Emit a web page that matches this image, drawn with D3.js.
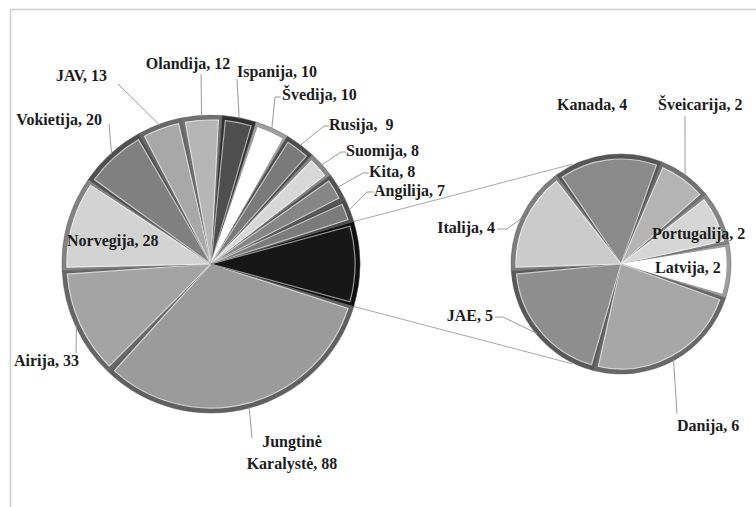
<!DOCTYPE html>
<html>
<head>
<meta charset="utf-8">
<script src="https://cdn.jsdelivr.net/npm/d3@7/dist/d3.min.js"></script>
<style>
  html, body { margin: 0; padding: 0; background: #fff; }
  svg { display: block; }
</style>
</head>
<body>
<svg id="chart" width="756" height="507"></svg>
<script>
// Main pie: countries, last slice is the sum of the secondary pie
const mainNames  = ["Jungtinė Karalystė", "Airija", "Norvegija", "Vokietija", "JAV", "Olandija",
                    "Ispanija", "Švedija", "Rusija", "Suomija", "Kita", "Angilija"];
const mainValues = [88, 33, 28, 20, 13, 12, 10, 10, 9, 8, 8, 7];
const mainColors = ["#9b9b9b", "#a4a4a4", "#d3d3d3", "#808080", "#a8a8a8", "#b6b6b6",
                    "#4e4e4e", "#ffffff", "#7a7a7a", "#d8d8d8", "#868686", "#7b7b7b"];

// Secondary pie (clockwise from its first slice)
const subNames  = ["Kanada", "Šveicarija", "Portugalija", "Latvija", "Danija", "JAE", "Italija"];
const subValues = [4, 2, 2, 2, 6, 5, 4];
const subColors = ["#8a8a8a", "#b4b4b4", "#d6d6d6", "#ffffff", "#a7a7a7", "#8e8e8e", "#cbcbcb"];
const otherColor = "#161616";

const FONT = "'Liberation Serif', 'DejaVu Serif', 'Times New Roman', serif";

// Label placement: [x, y, anchor, leader points after the rim point]
const mainLabelLayout = {
  "Jungtinė Karalystė": { x: 292, y: 447, anchor: "middle", lines: ["Jungtinė", "Karalystė, 88"], leader: [[252, 438]] },
  "Airija":    { x: 14,  y: 366, anchor: "start",  leader: [[76, 353]] },
  "Norvegija": { x: 67,  y: 246, anchor: "start",  leader: null },
  "Vokietija": { x: 102, y: 125, anchor: "end",    leader: [[109, 124]] },
  "JAV":       { x: 107, y: 81,  anchor: "end",    leader: [[118, 84]] },
  "Olandija":  { x: 188, y: 69,  anchor: "middle", leader: [[201, 74]] },
  "Ispanija":  { x: 237, y: 77,  anchor: "start",  leader: [[237, 79]] },
  "Švedija":   { x: 282, y: 100, anchor: "start",  leader: [[275, 97], [281, 97]] },
  "Rusija":    { x: 329, y: 130, anchor: "start",  leader: [[324, 126], [329, 126]], text: "Rusija,  9" },
  "Suomija":   { x: 346, y: 156, anchor: "start",  leader: [[341, 152], [346, 152]] },
  "Kita":      { x: 369, y: 177, anchor: "start",  leader: [[363, 173], [369, 173]] },
  "Angilija":  { x: 374, y: 196, anchor: "start",  leader: [[367, 192], [374, 192]] }
};
const subLabelLayout = {
  "Kanada":      { x: 557, y: 110, anchor: "start", leader: null },
  "Šveicarija":  { x: 658, y: 110, anchor: "start", leader: [[685, 116]] },
  "Portugalija": { x: 652, y: 239, anchor: "start", leader: null },
  "Latvija":     { x: 655, y: 273, anchor: "start", leader: null },
  "Danija":      { x: 677, y: 431, anchor: "start", leader: [[677, 414]] },
  "JAE":         { x: 493, y: 321, anchor: "end",   leader: [[503, 317], [495, 317]] },
  "Italija":     { x: 495, y: 233, anchor: "end",   leader: [[507, 229], [497, 229]] }
};

const svg = d3.select("#chart");

// Frame of the chart area
svg.append("path")
  .attr("d", "M756,9.5 H10.5 V507")
  .attr("fill", "none").attr("stroke", "#cfcfcf").attr("stroke-width", 1.5);

const mainCx = 211, mainCy = 264, mainR = 149;
const subCx = 621, subCy = 264, subR = 110;

const otherTotal = d3.sum(subValues);
const mainData = mainNames.map((n, i) => ({ name: n, value: mainValues[i], color: mainColors[i] }))
  .concat([{ name: "__other", value: otherTotal, color: otherColor }]);
const mainTotal = d3.sum(mainData, d => d.value);
const otherSpan = 2 * Math.PI * otherTotal / mainTotal;

// The split-off slice sits centred on the 3 o'clock direction
const mainStart = Math.PI / 2 + otherSpan / 2;
const mainPie = d3.pie().sort(null).value(d => d.value)
  .startAngle(mainStart).endAngle(mainStart + 2 * Math.PI);
const mainArcs = mainPie(mainData);

const subStart = -36 * Math.PI / 180;
const subData = subNames.map((n, i) => ({ name: n, value: subValues[i], color: subColors[i] }));
const subPie = d3.pie().sort(null).value(d => d.value)
  .startAngle(subStart).endAngle(subStart + 2 * Math.PI);
const subArcs = subPie(subData);

function polar(cx, cy, r, a) { return [cx + r * Math.sin(a), cy - r * Math.cos(a)]; }

// Connector lines between the split slice and the secondary pie
const otherArc = mainArcs[mainArcs.length - 1];
const conn = svg.append("g").attr("stroke", "#a8a8a8").attr("stroke-width", 1).attr("fill", "none");
const connA = 26 * Math.PI / 180;
[[otherArc.startAngle, -connA], [otherArc.endAngle, Math.PI + connA]].forEach(([a1, a2]) => {
  const p1 = polar(mainCx, mainCy, mainR - 1, a1);
  const p2 = polar(subCx, subCy, subR + 1, a2);
  conn.append("line").attr("x1", p1[0]).attr("y1", p1[1]).attr("x2", p2[0]).attr("y2", p2[1]);
});

// Bevelled slices
function drawPie(cx, cy, r, arcs) {
  const g = svg.append("g").attr("transform", `translate(${cx},${cy})`);
  const rim = d3.arc().innerRadius(0).outerRadius(r);
  const fr = r - 5;
  const face = d3.arc().innerRadius(0).outerRadius(fr).padAngle(7 / fr).padRadius(fr);
  const s = g.selectAll("g.slice").data(arcs).join("g").attr("class", "slice");
  s.append("path").attr("d", rim)
    .attr("fill", d => d3.interpolateRgb(d.data.color, "#000")(0.38))
    .attr("stroke", "#5a5a5a").attr("stroke-width", 0.5);
  s.append("path").attr("d", face)
    .attr("fill", d => d.data.color)
    .attr("stroke", d => d3.interpolateRgb(d.data.color, "#fff")(0.55))
    .attr("stroke-width", 1.2);
  return g;
}

drawPie(mainCx, mainCy, mainR, mainArcs);
drawPie(subCx, subCy, subR, subArcs);

// Labels and leader lines
const leaders = svg.append("g").attr("stroke", "#9a9a9a").attr("stroke-width", 1).attr("fill", "none");
const labels = svg.append("g")
  .attr("font-family", FONT).attr("font-weight", "bold").attr("font-size", 16).attr("fill", "#1c1c1c");

function addLabels(arcs, layout, cx, cy, r) {
  arcs.forEach(a => {
    const L = layout[a.data.name];
    if (!L) return;
    if (L.leader) {
      const mid = (a.startAngle + a.endAngle) / 2;
      const pts = [polar(cx, cy, r - 1, mid)].concat(L.leader);
      leaders.append("path").attr("d", d3.line()(pts));
    }
    const t = labels.append("text")
      .attr("x", L.x).attr("y", L.y)
      .attr("text-anchor", L.anchor)
      .style("white-space", "pre");
    if (L.lines) {
      t.append("tspan").attr("x", L.x).attr("dy", 0).text(L.lines[0]);
      t.append("tspan").attr("x", L.x).attr("dy", 22).text(L.lines[1].replace(/\d+$/, "") + a.data.value);
    } else {
      t.text(L.text || `${a.data.name}, ${a.data.value}`);
    }
  });
}

addLabels(mainArcs, mainLabelLayout, mainCx, mainCy, mainR);
addLabels(subArcs, subLabelLayout, subCx, subCy, subR);
</script>
</body>
</html>
